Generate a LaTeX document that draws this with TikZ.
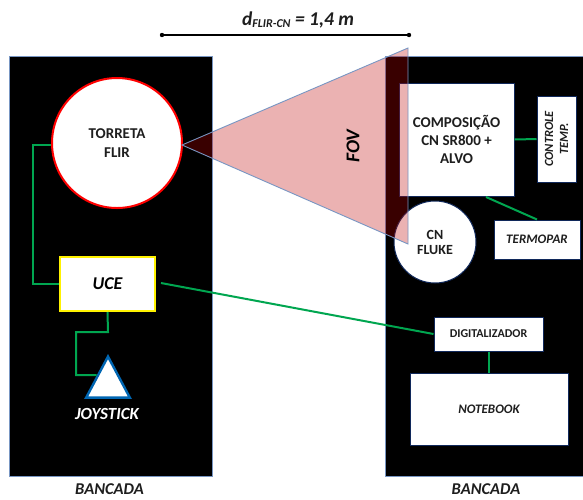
\documentclass[tikz,border=0pt]{standalone}
\usepackage{fontspec}
\setmainfont{Carlito}
\usetikzlibrary{shapes.geometric}
\definecolor{wire}{RGB}{0,166,80}
\definecolor{navy}{RGB}{16,40,90}
\definecolor{edgeblue}{RGB}{120,150,195}
\definecolor{tri}{RGB}{0,102,178}
\definecolor{labelgray}{RGB}{30,30,30}
\tikzset{
  bench/.style={draw=edgeblue,line width=.7pt,fill=black},
  whitebox/.style={draw=navy,line width=1pt,fill=white,inner sep=0pt,align=center,text=labelgray,font=\bfseries\fontsize{13}{16}\selectfont},
  wire/.style={draw=wire,line width=2pt},
  lab/.style={inner sep=0pt,align=center,text=labelgray,font=\bfseries\itshape\fontsize{17}{19}\selectfont},
}
\begin{document}
\begin{tikzpicture}[x=1pt,y=-1pt]
\useasboundingbox (0,0) rectangle (583,499);
\fill[white] (0,0) rectangle (583,499);
\draw[bench] (9,56) rectangle (212,476);
\draw[bench] (385,56) rectangle (583.5,476);
% left bench
\node[whitebox,circle,draw=red,line width=2pt,minimum size=130pt,font=\bfseries\fontsize{15}{19}\selectfont,text depth=0pt] (turret) at (117,143) {\rule{0pt}{4pt}TORRETA\\FLIR};
\node[whitebox,draw=yellow,line width=2pt,minimum width=95pt,minimum height=54pt,font=\bfseries\itshape\fontsize{18}{20}\selectfont,text=black] (uce) at (107.5,284) {UCE};
\node[draw=tri,line width=2.4pt,fill=white,isosceles triangle,isosceles triangle apex angle=56,shape border rotate=90,minimum height=41pt,inner sep=0pt,anchor=north] (joy) at (108,354) {};
\node[lab,text=white] (joylab) at (107,414) {JOYSTICK};
\node[lab,font=\bfseries\itshape\fontsize{16.5}{18}\selectfont] (b1) at (109.5,489.5) {BANCADA};
% right bench
\node[whitebox,minimum width=115pt,minimum height=113pt,font=\bfseries\fontsize{15}{18}\selectfont] (comp) at (456.5,139.5) {COMPOSIÇÃO\\CN SR800 +\\ALVO};
\node[whitebox,minimum width=39pt,minimum height=86pt] (ctrl) at (556.5,139) {\rotatebox{90}{\parbox{70pt}{\centering\bfseries\itshape\fontsize{12.5}{15}\selectfont CONTROLE\\TEMP.}}};
\node[whitebox,circle,minimum size=82pt,font=\bfseries\fontsize{14}{15}\selectfont] (fluke) at (435,242) {CN\\FLUKE};
\node[whitebox,minimum width=86pt,minimum height=39pt,font=\bfseries\itshape\fontsize{13}{14}\selectfont] (termo) at (537,239.5) {TERMOPAR};
\node[whitebox,minimum width=109pt,minimum height=34pt,font=\bfseries\fontsize{12}{14}\selectfont] (digi) at (488.5,334) {DIGITALIZADOR};
\node[whitebox,minimum width=158pt,minimum height=72pt,font=\bfseries\itshape\fontsize{13}{14}\selectfont] (note) at (489,409) {NOTEBOOK};
\node[lab,font=\bfseries\itshape\fontsize{16.5}{18}\selectfont] (b2) at (486,489.5) {BANCADA};
% connectors
\coordinate (w1) at (33,145);
\coordinate (w2) at (33,284);
\draw[wire] (turret.west |- w1) -- (w1) -- (w2) -- (uce.west);
\coordinate (w3) at (76,332);
\coordinate (w4) at (76,375);
\coordinate (w5) at (96.5,375);
\draw[wire] (uce.south) -- (108,332) -- (w3) -- (w4) -- (w5);
\coordinate (w6) at (161,283);
\draw[wire] (w6) -- (digi.west);
\draw[wire] (comp.east) -- (ctrl.west);
\coordinate (w7) at (486,197);
\coordinate (w8) at (537,219.5);
\draw[wire] (w7) -- (w8);
\draw[wire] (digi.south) -- (note.north -| digi.south);
% FOV
\coordinate (apex) at (182,145);
\coordinate (ftop) at (408,48);
\coordinate (fbot) at (408,244);
\fill[red!75!black,fill opacity=.3] (apex) -- (ftop) -- (fbot) -- cycle;
\draw[edgeblue,line width=.9pt] (apex) -- (ftop) -- (fbot) -- cycle;
\node[lab,rotate=90,text=black,font=\bfseries\itshape\fontsize{19.5}{21}\selectfont] (fov) at (353,146) {FOV};
% dimension
\coordinate (d1) at (162,35);
\coordinate (d2) at (409,35);
\draw[black,line width=1.5pt] (d1) -- (d2);
\fill (d1) circle (2.2pt) (d2) circle (2.2pt);
\node[lab,font=\bfseries\itshape\fontsize{19.5}{22}\selectfont] (dim) at (298,20) {d\raisebox{-2pt}{\fontsize{12}{13}\selectfont FLIR-CN} = 1,4 m};
\end{tikzpicture}
\end{document}
